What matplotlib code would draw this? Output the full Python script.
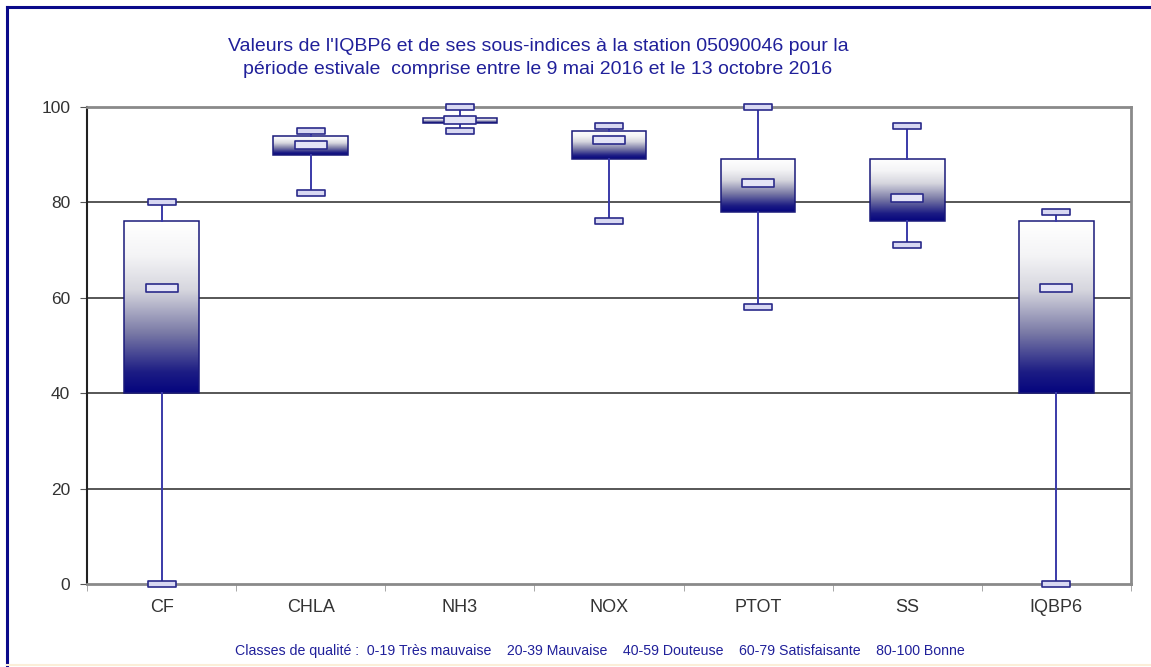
import numpy as np
import matplotlib
matplotlib.use("Agg")
import matplotlib.pyplot as plt
from matplotlib.colors import LinearSegmentedColormap
from matplotlib.path import Path
from matplotlib.lines import Line2D

categories = ["CF", "CHLA", "NH3", "NOX", "PTOT", "SS", "IQBP6"]
mins    = [0, 82, 95, 76, 58, 71, 0]
q1s     = [40, 90, 96.7, 89, 78, 76, 40]
medians = [62, 92, 97.2, 93, 84, 81, 62]
q3s     = [76, 94, 97.6, 95, 89, 89, 76]
maxs    = [80, 95, 100, 96, 100, 96, 78]
yticks = [0, 20, 40, 60, 80, 100]

title = ("Valeurs de l'IQBP6 et de ses sous-indices à la station 05090046 pour la\n"
         "période estivale  comprise entre le 9 mai 2016 et le 13 octobre 2016")
footer = ("Classes de qualité :  0-19 Très mauvaise    20-39 Mauvaise    40-59 Douteuse    "
          "60-79 Satisfaisante    80-100 Bonne")

plt.rcParams['font.family'] = ['Liberation Sans', 'DejaVu Sans']

W, H = 1151, 667
fig = plt.figure(figsize=(W / 100, H / 100), dpi=100)
fig.patch.set_facecolor("white")

# axes: left 87, right 1131, top 107, bottom 584 (pixels)
ax = fig.add_axes([87 / W, 1 - 584 / H, (1131 - 87) / W, (584 - 107) / H])
ax.set_xlim(-0.5, len(categories) - 0.5)
ax.set_ylim(0, 100)

for v in yticks[1:-1]:
    ax.axhline(v, color="#3a3a3a", lw=1.2, zorder=1)

for s in ["top", "right", "bottom"]:
    ax.spines[s].set_color("#8a8a8a")
    ax.spines[s].set_linewidth(2)
ax.spines["left"].set_color("#222222")
ax.spines["left"].set_linewidth(1.5)

stats = []
for i, c in enumerate(categories):
    stats.append(dict(label=c, whislo=mins[i], q1=q1s[i], med=medians[i],
                      q3=q3s[i], whishi=maxs[i], fliers=[]))

pos = np.arange(len(categories))
bp = ax.bxp(stats, positions=pos, widths=0.5, patch_artist=True, showfliers=False,
            boxprops=dict(facecolor="none", edgecolor="#1a1a7a", linewidth=1.1),
            whiskerprops=dict(color="#3a3aa8", linewidth=1.4),
            capprops=dict(visible=False),
            medianprops=dict(visible=False), zorder=3)

cmap = LinearSegmentedColormap.from_list(
    "g", [(0.0, "#05057e"), (0.12, "#1c1c84"), (0.35, "#7a7aa6"),
          (0.6, "#d6d6de"), (0.8, "#f4f4f6"), (1.0, "#ffffff")])
grad = np.linspace(0, 1, 256).reshape(-1, 1)
for i, patch in enumerate(bp["boxes"]):
    im = ax.imshow(grad, cmap=cmap, aspect="auto", origin="lower",
                   extent=[pos[i] - 0.25, pos[i] + 0.25, q1s[i], q3s[i]],
                   zorder=2.5, interpolation="bilinear")
    im.set_clip_path(patch)
ax.set_xlim(-0.5, len(categories) - 0.5)
ax.set_ylim(0, 100)

rect = Path([(-1, -0.22), (1, -0.22), (1, 0.22), (-1, 0.22), (-1, -0.22)],
            [Path.MOVETO, Path.LINETO, Path.LINETO, Path.LINETO, Path.CLOSEPOLY])
ax.plot(pos, mins, linestyle="none", marker=rect, markersize=20,
        markerfacecolor="#d8d8f2", markeredgecolor="#2a2a8a", markeredgewidth=1.2,
        zorder=5, clip_on=False)
ax.plot(pos, maxs, linestyle="none", marker=rect, markersize=20,
        markerfacecolor="#d8d8f2", markeredgecolor="#2a2a8a", markeredgewidth=1.2,
        zorder=5, clip_on=False)
ax.plot(pos, medians, linestyle="none", marker=rect, markersize=23,
        markerfacecolor="#e4e4f6", markeredgecolor="#2a2a8a", markeredgewidth=1.2,
        zorder=5)

ax.set_yticks(yticks)
ax.set_yticklabels([str(v) for v in yticks])
ax.tick_params(axis="y", direction="out", length=5, color="#555555",
               labelsize=12.5, labelcolor="#333333", pad=7)
ax.set_xticks(pos)
ax.set_xticklabels(categories)
ax.tick_params(axis="x", which="major", length=0, labelsize=13,
               labelcolor="#333333", pad=11)
ax.set_xticks(np.arange(-0.5, len(categories) + 0.5, 1), minor=True)
ax.tick_params(axis="x", which="minor", direction="out", length=5, color="#999999")

fig.text(538 / W, 1 - 58 / H, title, ha="center", va="center", color="#20209a",
         fontsize=14, linespacing=1.4)
fig.text(600 / W, 1 - 651 / H, footer, ha="center", va="center", color="#20209a",
         fontsize=10.2)

fig.add_artist(Line2D([7 / W, 1], [1 - 7 / H, 1 - 7 / H], color="#0a0a8a", lw=2.2,
                      transform=fig.transFigure))
fig.add_artist(Line2D([7 / W, 7 / W], [1 - 7 / H, 0], color="#0a0a8a", lw=2.2,
                      transform=fig.transFigure))
fig.add_artist(Line2D([7 / W, 1], [1 - 665 / H, 1 - 665 / H], color="#fbeed8", lw=1.5,
                      transform=fig.transFigure))

fig.savefig("out.png", dpi=100)
